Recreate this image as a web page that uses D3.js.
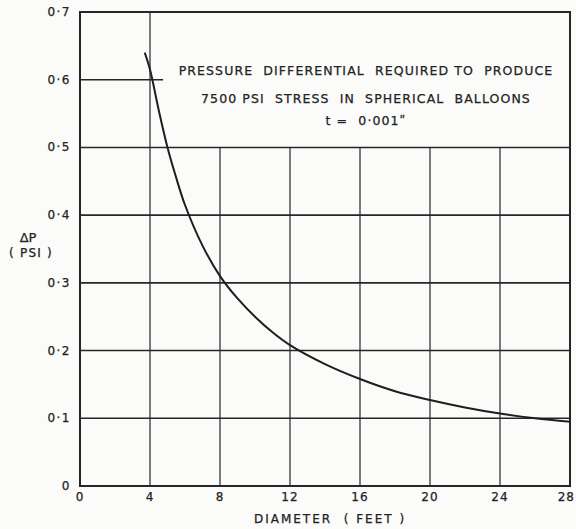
<!DOCTYPE html>
<html>
<head>
<meta charset="utf-8">
<script src="https://d3js.org/d3.v7.min.js"></script>
<style>
  body { margin: 0; background: #fbfbfa; }
  svg text { font-family: "DejaVu Sans", sans-serif; fill: #222; stroke: #222; stroke-width: 0.25; white-space: pre; }
</style>
</head>
<body>
<svg id="chart"></svg>
<script>
  var width = 576, height = 529;

  // values
  var diameter = [3.7, 4, 4.5, 5, 5.5, 6, 7, 8, 9, 10, 11, 12, 14, 16, 18, 20, 22, 24, 26, 28];
  var deltaP = [0.64, 0.615, 0.555, 0.50, 0.455, 0.415, 0.355, 0.31, 0.277, 0.25, 0.227, 0.208, 0.18, 0.158, 0.14, 0.127, 0.116, 0.107, 0.10, 0.095];

  var xTicks = [0, 4, 8, 12, 16, 20, 24, 28];
  var yTicks = [0, 0.1, 0.2, 0.3, 0.4, 0.5, 0.6, 0.7];
  var yTickLabels = ["0", "0·1", "0·2", "0·3", "0·4", "0·5", "0·6", "0·7"];
  var titleLines = ["PRESSURE  DIFFERENTIAL  REQUIRED TO  PRODUCE",
                    "7500 PSI  STRESS  IN  SPHERICAL  BALLOONS",
                    "t =  0·001\u02BA"];

  var svg = d3.select("#chart").attr("width", width).attr("height", height);

  var x = d3.scaleLinear().domain([0, 28]).range([80, 570]);
  var y = d3.scaleLinear().domain([0, 0.7]).range([486, 12]);

  var ink = "#262626";

  // horizontal grid lines (0.6 only runs to the title box)
  svg.selectAll(".hgrid")
    .data(yTicks.slice(1, 6))
    .enter().append("line")
    .attr("x1", x(0)).attr("x2", x(28))
    .attr("y1", function(d) { return y(d); })
    .attr("y2", function(d) { return y(d); })
    .attr("stroke", ink).attr("stroke-width", 1.6);

  svg.append("line")
    .attr("x1", x(0)).attr("x2", x(4.75))
    .attr("y1", y(0.6)).attr("y2", y(0.6))
    .attr("stroke", ink).attr("stroke-width", 1.6);

  // vertical grid lines
  svg.selectAll(".vgrid")
    .data(xTicks.slice(1, 7))
    .enter().append("line")
    .attr("x1", function(d) { return x(d); })
    .attr("x2", function(d) { return x(d); })
    .attr("y1", y(0))
    .attr("y2", function(d) { return d == 4 ? y(0.7) : y(0.5); })
    .attr("stroke", ink).attr("stroke-width", 1.2);

  // frame
  svg.append("rect")
    .attr("x", x(0)).attr("y", y(0.7))
    .attr("width", x(28) - x(0)).attr("height", y(0) - y(0.7))
    .attr("fill", "none").attr("stroke", ink).attr("stroke-width", 2);

  // curve
  var line = d3.line()
    .x(function(d, i) { return x(diameter[i]); })
    .y(function(d) { return y(d); })
    .curve(d3.curveCatmullRom);

  svg.append("path")
    .datum(deltaP)
    .attr("d", line)
    .attr("fill", "none")
    .attr("stroke", "#1e1e1e")
    .attr("stroke-width", 2);

  // y tick labels
  svg.selectAll(".ylab")
    .data(yTicks)
    .enter().append("text")
    .attr("x", 71)
    .attr("y", function(d) { return y(d) + 4; })
    .attr("text-anchor", "end")
    .attr("font-size", 12)
    .attr("letter-spacing", 1.5)
    .text(function(d, i) { return yTickLabels[i]; });

  // x tick labels (last one pulled in so it stays on the page)
  svg.selectAll(".xlab")
    .data(xTicks)
    .enter().append("text")
    .attr("x", function(d) { return d == 28 ? width - 1 : x(d); })
    .attr("y", 501)
    .attr("text-anchor", function(d) { return d == 28 ? "end" : "middle"; })
    .attr("font-size", 12)
    .attr("letter-spacing", 1)
    .text(function(d) { return d; });

  // axis titles
  svg.append("text")
    .attr("x", 330).attr("y", 523)
    .attr("text-anchor", "middle")
    .attr("font-size", 12)
    .attr("letter-spacing", 2)
    .text("DIAMETER  ( FEET )");

  svg.append("text")
    .attr("x", 28).attr("y", 242)
    .attr("text-anchor", "middle")
    .attr("font-size", 13)
    .text("ΔP");

  svg.append("text")
    .attr("x", 31).attr("y", 257)
    .attr("text-anchor", "middle")
    .attr("font-size", 12)
    .attr("letter-spacing", 1.2)
    .text("( PSI )");

  // title block
  svg.selectAll(".title")
    .data(titleLines)
    .enter().append("text")
    .attr("x", 366)
    .attr("y", function(d, i) { return [75, 103, 125][i]; })
    .attr("text-anchor", "middle")
    .attr("font-size", 12.5)
    .attr("letter-spacing", 1.1)
    .text(function(d) { return d; });
</script>
</body>
</html>
